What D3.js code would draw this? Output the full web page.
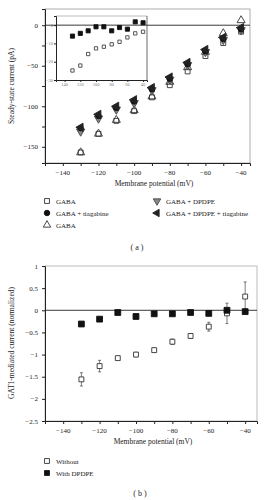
<!DOCTYPE html>
<html>
<head>
<meta charset="utf-8">
<script src="https://cdn.jsdelivr.net/npm/d3@7"></script>
<style>
  body { margin: 0; background: #fff; }
  svg text { font-family: "Liberation Serif", "DejaVu Serif", serif; fill: #222; }
</style>
</head>
<body>
<div id="chart"></div>
<script>
// ---- panel (a) data ----
const voltages = [-130, -120, -110, -100, -90, -80, -70, -60, -50, -40];
const gabaSquare = [-157, -134, -118, -106, -89, -74, -57, -38, -22, -8];
const gabaTiagabine = [-127, -112, -102, -94, -79, -66, -48, -32, -17, -5];
const gabaTriangle = [-157, -134, -117, -105, -88, -70, -52, -33, -10, 6];
const gabaDpdpe = [-131, -115, -104, -96, -80, -67, -49, -33, -18, -6];
const gabaDpdpeTiagabine = [-126, -110, -100, -92, -77, -64, -46, -30, -15, -3];
const xTicksA = [-140, -120, -100, -80, -60, -40];
const yTicksA = [0, -50, -100, -150];

// inset data
const insetWith = [-6, -4.5, -3.1, -0.9, -0.9, -3.1, -1.3, -2.2, 1.8, 1.3];
const insetWithout = [-24.8, -22.1, -15.8, -12.7, -11.8, -10.5, -9.1, -6.7, -4.5, -3.6];
const insetYTicks = [0, -10, -20, -30];

// ---- panel (b) data ----
const withoutMean = [-1.56, -1.26, -1.08, -1.0, -0.9, -0.71, -0.58, -0.37, -0.07, 0.31];
const withoutErr = [0.15, 0.13, 0.03, 0.05, 0.04, 0.06, 0.05, 0.1, 0.23, 0.33];
const withDpdpe = [-0.31, -0.2, -0.05, -0.14, -0.08, -0.08, -0.05, -0.07, 0.0, -0.03];
const withErr = [0.05, 0.05, 0, 0, 0, 0, 0, 0, 0.05, 0];
const yTicksB = [1, 0.5, 0, -0.5, -1, -1.5, -2, -2.5];

const W = 267, H = 500;
const svg = d3.select("#chart").append("svg").attr("width", W).attr("height", H);

function fmt(v) { return String(v).replace("-", "\u2212"); }

function marker(g, type, x, y, size, fill, stroke) {
  let sym = d3.symbolSquare, rot = 0;
  if (type == "circle") sym = d3.symbolCircle;
  if (type == "up") sym = d3.symbolTriangle;
  if (type == "down") { sym = d3.symbolTriangle; rot = 180; }
  if (type == "left") { sym = d3.symbolTriangle; rot = -90; }
  g.append("path")
    .attr("d", d3.symbol().type(sym).size(size))
    .attr("transform", "translate(" + x + "," + y + ") rotate(" + rot + ")")
    .style("fill", fill)
    .style("stroke", stroke)
    .style("stroke-width", 0.9);
}

// ================= panel (a) =================
const xa = d3.scaleLinear().domain([-150, -35]).range([45, 250]);
const ya = d3.scaleLinear().domain([-170, 20]).range([163, 9]);

// frame
svg.append("rect").attr("x", 45).attr("y", 9).attr("width", 205).attr("height", 154)
  .style("fill", "none").style("stroke", "#999").style("stroke-width", 0.8);
svg.append("line").attr("x1", 45).attr("x2", 250).attr("y1", ya(0)).attr("y2", ya(0))
  .style("stroke", "#222").style("stroke-width", 0.9);

const xAxisA = svg.append("g").attr("transform", "translate(0,163)")
  .call(d3.axisBottom(xa).tickValues(d3.range(-150, -35, 10)).tickSize(3).tickFormat(""));
const yAxisA = svg.append("g").attr("transform", "translate(45,0)")
  .call(d3.axisLeft(ya).tickValues(d3.range(-150, 1, 25)).tickSize(3).tickFormat(""));
[xAxisA, yAxisA].forEach(a => { a.selectAll("path,line").style("stroke", "#222"); });

svg.selectAll(".xla").data(xTicksA).enter().append("text")
  .attr("x", d => xa(d)).attr("y", 175).attr("text-anchor", "middle")
  .style("font-size", "7px").text(fmt);
svg.selectAll(".yla").data(yTicksA).enter().append("text")
  .attr("x", 38).attr("y", d => ya(d) + 2.5).attr("text-anchor", "end")
  .style("font-size", "7px").text(fmt);

svg.append("text").attr("x", 154).attr("y", 186).attr("text-anchor", "middle")
  .style("font-size", "7.5px").text("Membrane potential (mV)");
svg.append("text").attr("transform", "translate(14,86) rotate(-90)").attr("text-anchor", "middle")
  .style("font-size", "7.5px").text("Steady-state current (pA)");

// main markers
const ga = svg.append("g");
voltages.forEach((v, i) => {
  marker(ga, "square", xa(v), ya(gabaSquare[i]), 24, "#fff", "#333");
  marker(ga, "up", xa(v), ya(gabaTriangle[i]), 28, "none", "#333");
  marker(ga, "down", xa(v), ya(gabaDpdpe[i]), 30, "#888", "#444");
  marker(ga, "circle", xa(v), ya(gabaTiagabine[i]), 24, "#111", "#111");
  marker(ga, "left", xa(v), ya(gabaDpdpeTiagabine[i]), 30, "#222", "#222");
});

// inset
const xi = d3.scaleLinear().domain([-151, -35]).range([56, 147]);
const yi = d3.scaleLinear().domain([-30, 5]).range([80, 16]);
svg.append("rect").attr("x", 56).attr("y", 16).attr("width", 91).attr("height", 64)
  .style("fill", "#fff").style("stroke", "none");
svg.append("line").attr("x1", 56).attr("x2", 147).attr("y1", 16).attr("y2", 16)
  .style("stroke", "#aaa").style("stroke-width", 0.8);
svg.append("line").attr("x1", 147).attr("x2", 147).attr("y1", 16).attr("y2", 80)
  .style("stroke", "#444").style("stroke-width", 0.8);
svg.append("line").attr("x1", 56).attr("x2", 147).attr("y1", yi(0)).attr("y2", yi(0))
  .style("stroke", "#222").style("stroke-width", 0.9);
const xAxisI = svg.append("g").attr("transform", "translate(0,80)")
  .call(d3.axisBottom(xi).tickValues(xTicksA).tickSize(2).tickFormat(""));
const yAxisI = svg.append("g").attr("transform", "translate(56,0)")
  .call(d3.axisLeft(yi).tickValues(insetYTicks).tickSize(2).tickFormat(""));
[xAxisI, yAxisI].forEach(a => { a.selectAll("path,line").style("stroke", "#222"); });
svg.selectAll(".xli").data(xTicksA).enter().append("text")
  .attr("x", d => xi(d)).attr("y", 86).attr("text-anchor", "middle")
  .style("font-size", "4.5px").style("fill", "#777").text(d => String(-d));
svg.selectAll(".yli").data(insetYTicks).enter().append("text")
  .attr("x", 53).attr("y", d => yi(d) + 1.5).attr("text-anchor", "end")
  .style("font-size", "4.5px").style("fill", "#777").text(fmt);
const gi = svg.append("g");
voltages.forEach((v, i) => {
  marker(gi, "square", xi(v), yi(insetWithout[i]), 11, "#fff", "#444");
  marker(gi, "square", xi(v), yi(insetWith[i]), 17, "#111", "#111");
});

// legend (a)
const legA = [
  { t: "GABA", m: "square", x: 47, y: 201, f: "#fff", s: "#333" },
  { t: "GABA + tiagabine", m: "circle", x: 47, y: 213, f: "#111", s: "#111" },
  { t: "GABA", m: "up", x: 47, y: 225, f: "#fff", s: "#333" },
  { t: "GABA + DPDPE", m: "down", x: 157, y: 201, f: "#888", s: "#444" },
  { t: "GABA + DPDPE + tiagabine", m: "left", x: 157, y: 213, f: "#222", s: "#222" }
];
legA.forEach(d => {
  marker(svg, d.m, d.x, d.y, 24, d.f, d.s);
  svg.append("text").attr("x", d.x + 9).attr("y", d.y + 2.5).style("font-size", "7px").text(d.t);
});
svg.append("text").attr("x", 137).attr("y", 250).attr("text-anchor", "middle")
  .style("font-size", "8px").text("( a )");

// ================= panel (b) =================
const xb = d3.scaleLinear().domain([-150, -33.5]).range([45, 257]);
const yb = d3.scaleLinear().domain([-2.5, 1]).range([421, 266]);

svg.append("rect").attr("x", 45).attr("y", 266).attr("width", 212).attr("height", 155)
  .style("fill", "none").style("stroke", "#aaa").style("stroke-width", 0.8);
svg.append("line").attr("x1", 45).attr("x2", 257).attr("y1", yb(0)).attr("y2", yb(0))
  .style("stroke", "#222").style("stroke-width", 0.9);

const xAxisB = svg.append("g").attr("transform", "translate(0,421)")
  .call(d3.axisBottom(xb).tickValues(d3.range(-150, -33, 10)).tickSize(3).tickFormat(""));
const yAxisB = svg.append("g").attr("transform", "translate(45,0)")
  .call(d3.axisLeft(yb).tickValues(yTicksB).tickSize(3).tickFormat(""));
[xAxisB, yAxisB].forEach(a => { a.selectAll("path,line").style("stroke", "#222"); });

svg.selectAll(".xlb").data(xTicksA).enter().append("text")
  .attr("x", d => xb(d)).attr("y", 433).attr("text-anchor", "middle")
  .style("font-size", "7px").text(fmt);
svg.selectAll(".ylb").data(yTicksB).enter().append("text")
  .attr("x", 38).attr("y", d => yb(d) + 2.5).attr("text-anchor", "end")
  .style("font-size", "7px").text(fmt);
svg.append("text").attr("x", 153).attr("y", 444).attr("text-anchor", "middle")
  .style("font-size", "7.5px").text("Membrane potential (mV)");
svg.append("text").attr("transform", "translate(14,343) rotate(-90)").attr("text-anchor", "middle")
  .style("font-size", "7.5px").text("GAT1-mediated current (normalized)");

const gb = svg.append("g");
voltages.forEach((v, i) => {
  const x = xb(v);
  gb.append("line").attr("x1", x).attr("x2", x)
    .attr("y1", yb(withoutMean[i] - withoutErr[i])).attr("y2", yb(withoutMean[i] + withoutErr[i]))
    .style("stroke", "#444").style("stroke-width", 0.7);
  [withoutMean[i] - withoutErr[i], withoutMean[i] + withoutErr[i]].forEach(e => {
    gb.append("line").attr("x1", x - 1.5).attr("x2", x + 1.5).attr("y1", yb(e)).attr("y2", yb(e))
      .style("stroke", "#444").style("stroke-width", 0.7);
  });
  marker(gb, "square", x, yb(withoutMean[i]), 24, "#fff", "#333");
});
voltages.forEach((v, i) => {
  const x = xb(v);
  if (withErr[i] > 0) {
    gb.append("line").attr("x1", x).attr("x2", x)
      .attr("y1", yb(withDpdpe[i] - withErr[i])).attr("y2", yb(withDpdpe[i] + withErr[i]))
      .style("stroke", "#222").style("stroke-width", 0.7);
  }
  marker(gb, "square", x, yb(withDpdpe[i]), 34, "#111", "#111");
});

const legB = [
  { t: "Without", x: 47, y: 461, f: "#fff", s: "#333" },
  { t: "With DPDPE", x: 47, y: 473, f: "#111", s: "#111" }
];
legB.forEach(d => {
  marker(svg, "square", d.x, d.y, 24, d.f, d.s);
  svg.append("text").attr("x", d.x + 9).attr("y", d.y + 2.5).style("font-size", "7px").text(d.t);
});
svg.append("text").attr("x", 140).attr("y", 496).attr("text-anchor", "middle")
  .style("font-size", "8px").text("( b )");
</script>
</body>
</html>
